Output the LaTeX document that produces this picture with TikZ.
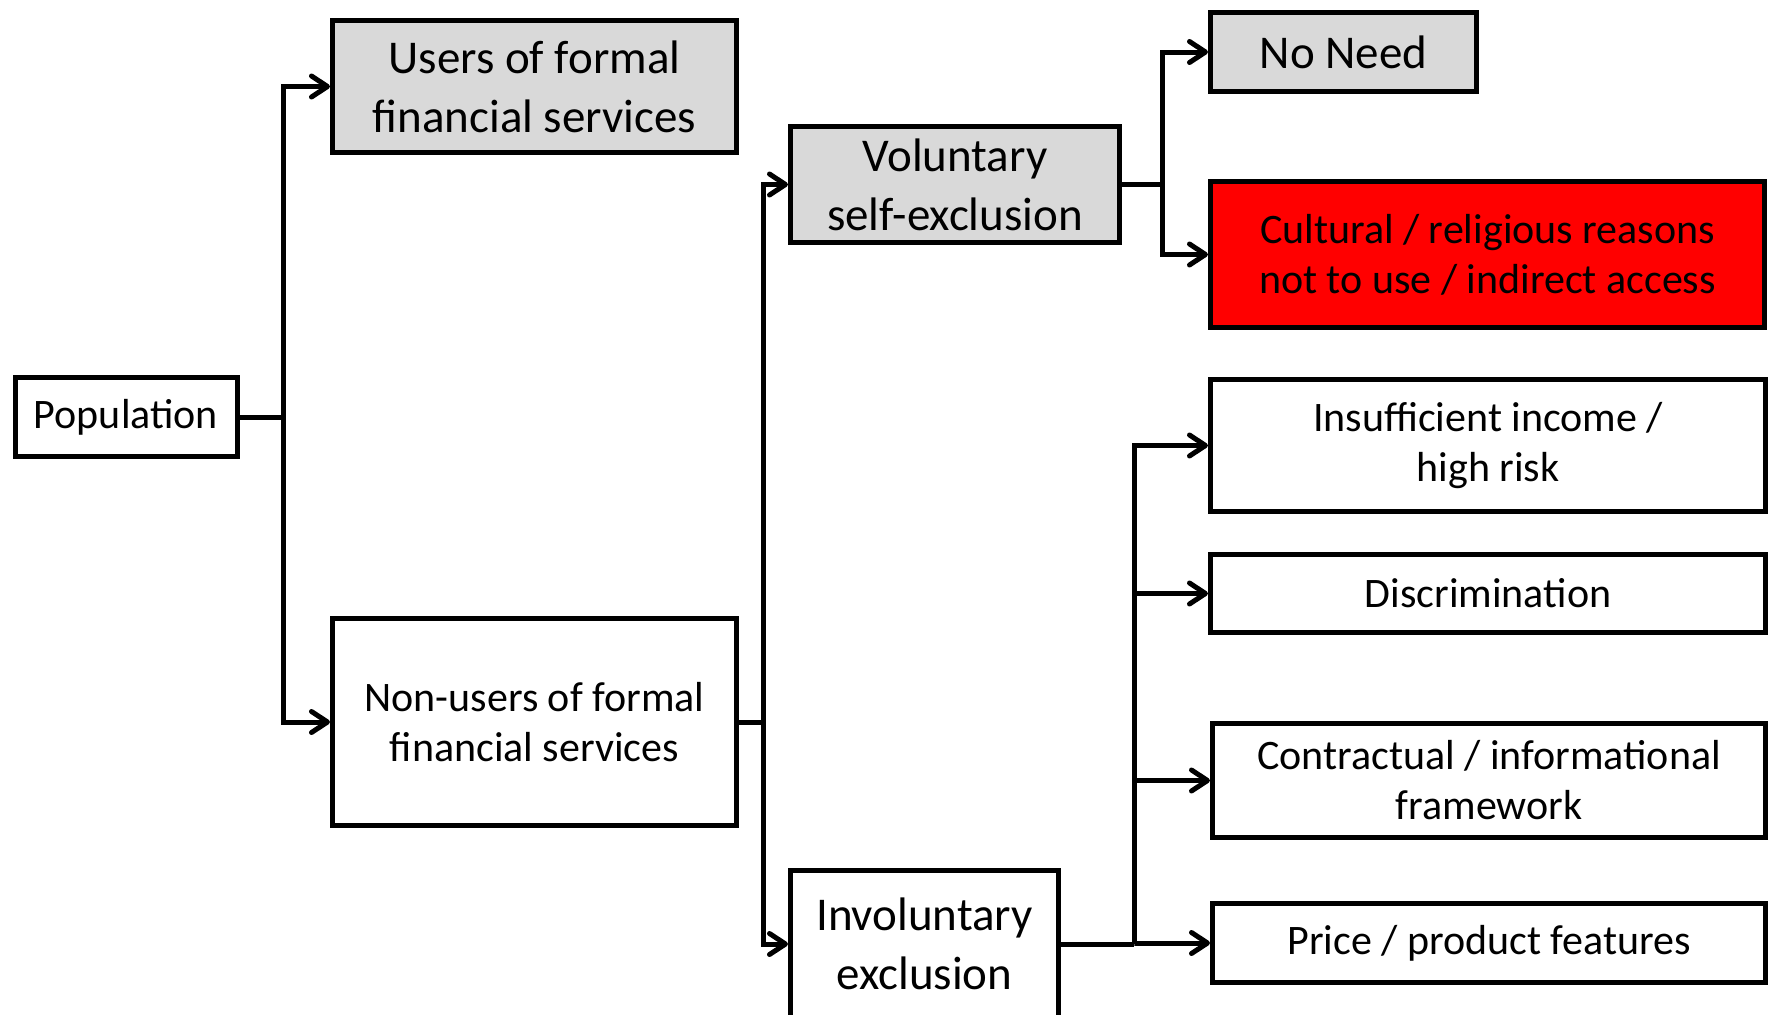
\documentclass[tikz,border=0pt]{standalone}
\usepackage{fontspec}
\setmainfont{Carlito}
\usetikzlibrary{arrows.meta}

\begin{document}
\begin{tikzpicture}[x=1pt,y=-1pt]
\tikzset{box/.style = {shape=rectangle,draw,line width=5pt,align=center,inner sep=0pt,font=\fontsize{42}{50}\selectfont}}
\tikzset{big/.style = {font=\fontsize{47}{59}\selectfont}}
\tikzset{grey/.style = {box,big,fill=black!15}}
\tikzset{line/.style = {line width=5pt}}
\tikzset{edge/.style = {line,-{Straight Barb[length=16pt,width=21pt,round]}}}
\useasboundingbox (0,0) rectangle (1773,1015);

% boxes
\node[box, minimum width=222pt, minimum height=79pt] (pop) at (126,417) {Population};
\node[grey, minimum width=404pt, minimum height=132pt] (users) at (534.5,86.5) {Users of formal\\financial services};
\node[box, minimum width=404pt, minimum height=207pt] (nonusers) at (534.5,722) {Non-users of formal\\financial services};
\node[grey, minimum width=329pt, minimum height=116pt] (vol) at (955,184.5) {Voluntary\\self-exclusion};
\node[box, big, minimum width=268pt, minimum height=148pt] (invol) at (924.5,944) {Involuntary\\exclusion};
\node[grey, minimum width=266pt, minimum height=79pt] (noneed) at (1343.5,52) {No Need};
\node[box, fill=red, minimum width=554pt, minimum height=146pt] (cult) at (1487.5,254.5) {Cultural / religious reasons\\not to use / indirect access};
\node[box, minimum width=555pt, minimum height=132pt] (insuf) at (1488,445.5) {Insufficient income /\\high risk};
\node[box, minimum width=555pt, minimum height=78pt] (discr) at (1488,593.5) {Discrimination};
\node[box, minimum width=553pt, minimum height=114pt] (contr) at (1489,780.5) {Contractual / informational\\framework};
\node[box, minimum width=553pt, minimum height=79pt] (price) at (1489,943) {Price / product features};

%edges
\draw[line] (pop.east) -- ++(44,0) coordinate (j1);
\draw[edge] (j1) |- (users.west);
\draw[edge] (j1) |- (nonusers.west);

\draw[line] (nonusers.east) -- ++(24,0) coordinate (j2);
\draw[edge] (j2) |- (vol.west);
\draw[edge] (j2) |- (invol.west);

\draw[line] (vol.east) -- ++(40,0) coordinate (j3);
\draw[edge] (j3) |- (noneed.west);
\draw[edge] (j3) |- (cult.west);

\draw[line] (invol.east) -- ++(73,0) coordinate (j4);
\draw[edge] (j4) |- (insuf.west);
\draw[edge] (j4) |- (discr.west);
\draw[edge] (j4) |- (contr.west);
\draw[edge] (j4) |- (price.west);

\end{tikzpicture}
\end{document}
